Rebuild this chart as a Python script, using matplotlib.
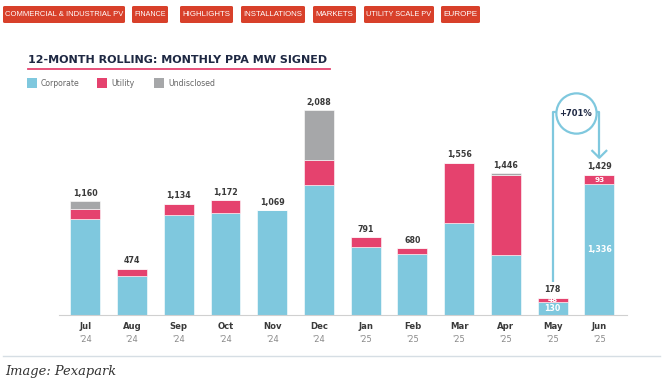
import numpy as np
import matplotlib
matplotlib.use("Agg")
import matplotlib.pyplot as plt
from matplotlib.patches import Rectangle, FancyBboxPatch
from matplotlib.lines import Line2D

# data (MW)
months = ["Jul", "Aug", "Sep", "Oct", "Nov", "Dec", "Jan", "Feb", "Mar", "Apr", "May", "Jun"]
years = ["'24"] * 6 + ["'25"] * 6
corporate = [976, 401, 1019, 1041, 1069, 1323, 691, 626, 937, 612, 130, 1336]
utility = [103, 73, 115, 131, 0, 254, 100, 54, 619, 819, 48, 93]
undisclosed = [81, 0, 0, 0, 0, 511, 0, 0, 0, 15, 0, 0]
totals = [1160, 474, 1134, 1172, 1069, 2088, 791, 680, 1556, 1446, 178, 1429]
growth_label = "+701%"

tags = ["COMMERCIAL & INDUSTRIAL PV", "FINANCE", "HIGHLIGHTS", "INSTALLATIONS",
        "MARKETS", "UTILITY SCALE PV", "EUROPE"]
tag_x = [(3, 125), (132, 168), (180, 233), (241, 305), (313, 356), (364, 434), (441, 480)]

C_CORP = "#7fc8de"
C_UTIL = "#e5426e"
C_UND = "#a6a7a9"
C_TAG = "#d8402a"
NAVY = "#1e2843"

W, H = 667, 382
fig = plt.figure(figsize=(W / 100, H / 100), dpi=100)
fig.patch.set_facecolor("white")


def fx(px):
    return px / W


def fy(py):
    return 1 - py / H


# tag boxes at the top
renderer = fig.canvas.get_renderer()
for label, (x0, x1) in zip(tags, tag_x):
    fig.patches.append(FancyBboxPatch((fx(x0), fy(23)), fx(x1 - x0), fy(6) - fy(23),
                                      boxstyle="round,pad=0,rounding_size=0.003",
                                      transform=fig.transFigure, facecolor=C_TAG,
                                      edgecolor="none"))
    t = fig.text(fx((x0 + x1) / 2), fy(14.5), label, color="white", fontsize=7.5,
                 family=["Liberation Sans Narrow", "Liberation Sans"], fontstretch="condensed",
                 ha="center", va="center")
    # no condensed face here, so shrink the text to fit its box
    w = t.get_window_extent(renderer).width
    t.set_fontsize(min(7.5, 7.5 * (x1 - x0 - 5) / w))

# title + underline
fig.text(fx(28), fy(60), "12-MONTH ROLLING: MONTHLY PPA MW SIGNED", fontsize=8.0,
         fontweight="bold", color=NAVY, ha="left", va="center")
fig.add_artist(Line2D([fx(28), fx(330)], [fy(69), fy(69)], color=C_UTIL, lw=1.3,
                      transform=fig.transFigure))

# legend
for name, col, sx in [("Corporate", C_CORP, 27), ("Utility", C_UTIL, 97),
                      ("Undisclosed", C_UND, 154)]:
    fig.patches.append(Rectangle((fx(sx), fy(88)), fx(10), fy(78) - fy(88),
                                 transform=fig.transFigure, facecolor=col, edgecolor="none"))
    fig.text(fx(sx + 14), fy(83.5), name, fontsize=5.6, color="#666666", ha="left", va="center")

# chart axes
ax = fig.add_axes([fx(59), fy(315), fx(568), fy(100) - fy(315)])
x = np.arange(len(months))
corp = np.array(corporate)
util = np.array(utility)
und = np.array(undisclosed)
bw = 0.64
ax.bar(x, corp, bw, color=C_CORP, edgecolor="white", linewidth=0.4)
ax.bar(x, util, bw, bottom=corp, color=C_UTIL, edgecolor="white", linewidth=0.4)
ax.bar(x, und, bw, bottom=corp + util, color=C_UND, edgecolor="white", linewidth=0.4)

ax.set_xlim(-0.563, 11.593)
ax.set_ylim(0, 2194)
for s in ["top", "right", "left"]:
    ax.spines[s].set_visible(False)
ax.spines["bottom"].set_color("#d0d0d0")
ax.spines["bottom"].set_linewidth(0.8)
ax.set_yticks([])
ax.set_xticks([])

for i, t in enumerate(totals):
    ax.annotate(f"{t:,}", (x[i], corp[i] + util[i] + und[i]), xytext=(0, 2.5),
                textcoords="offset points", ha="center", va="bottom", fontsize=5.7,
                fontweight="bold", color="#3a3a3a")
    ax.annotate(months[i], (x[i], 0), xytext=(0, -8.5), textcoords="offset points",
                ha="center", va="center", fontsize=6.1, fontweight="bold", color="#3a3a3a")
    ax.annotate(years[i], (x[i], 0), xytext=(0, -17.5), textcoords="offset points",
                ha="center", va="center", fontsize=6, color="#8a8a8a")

# in-bar labels for the last two months
for i in [10, 11]:
    ax.text(x[i], corp[i] / 2, f"{corp[i]:,}", ha="center", va="center", fontsize=5.7,
            fontweight="bold", color="white")
    ax.text(x[i], corp[i] + util[i] / 2, f"{util[i]:,}", ha="center", va="center",
            fontsize=5.2, fontweight="bold", color="white")

# +701% callout from May to Jun
y_top = 2071
ax.plot([x[10], x[10], 10.3], [totals[10] + 160, y_top, y_top], color=C_CORP, lw=1.6,
        solid_capstyle="butt", zorder=3)
ax.plot([10.7, x[11], x[11]], [y_top, y_top, totals[11] + 175], color=C_CORP, lw=1.6,
        solid_capstyle="butt", zorder=3)
ax.plot([x[11] - 0.15, x[11], x[11] + 0.15], [totals[11] + 246, totals[11] + 175, totals[11] + 246],
        color=C_CORP, lw=1.6, zorder=3)
ax.plot([10.5], [y_top - 13], marker="o", markersize=29, markerfacecolor="white",
        markeredgecolor=C_CORP, markeredgewidth=1.6, zorder=4, clip_on=False)
ax.text(10.5, y_top - 13, growth_label, ha="center", va="center", fontsize=6,
        fontweight="bold", color=NAVY, zorder=5)

# footer
fig.add_artist(Line2D([fx(3), fx(660)], [fy(356), fy(356)], color="#d6dee4", lw=1,
                      transform=fig.transFigure))
fig.text(fx(5), fy(372), "Image: Pexapark", fontsize=9.4, fontstyle="italic",
         family="DejaVu Serif", color="#333333", ha="left", va="center")

fig.savefig("out.png", dpi=100, facecolor="white")
